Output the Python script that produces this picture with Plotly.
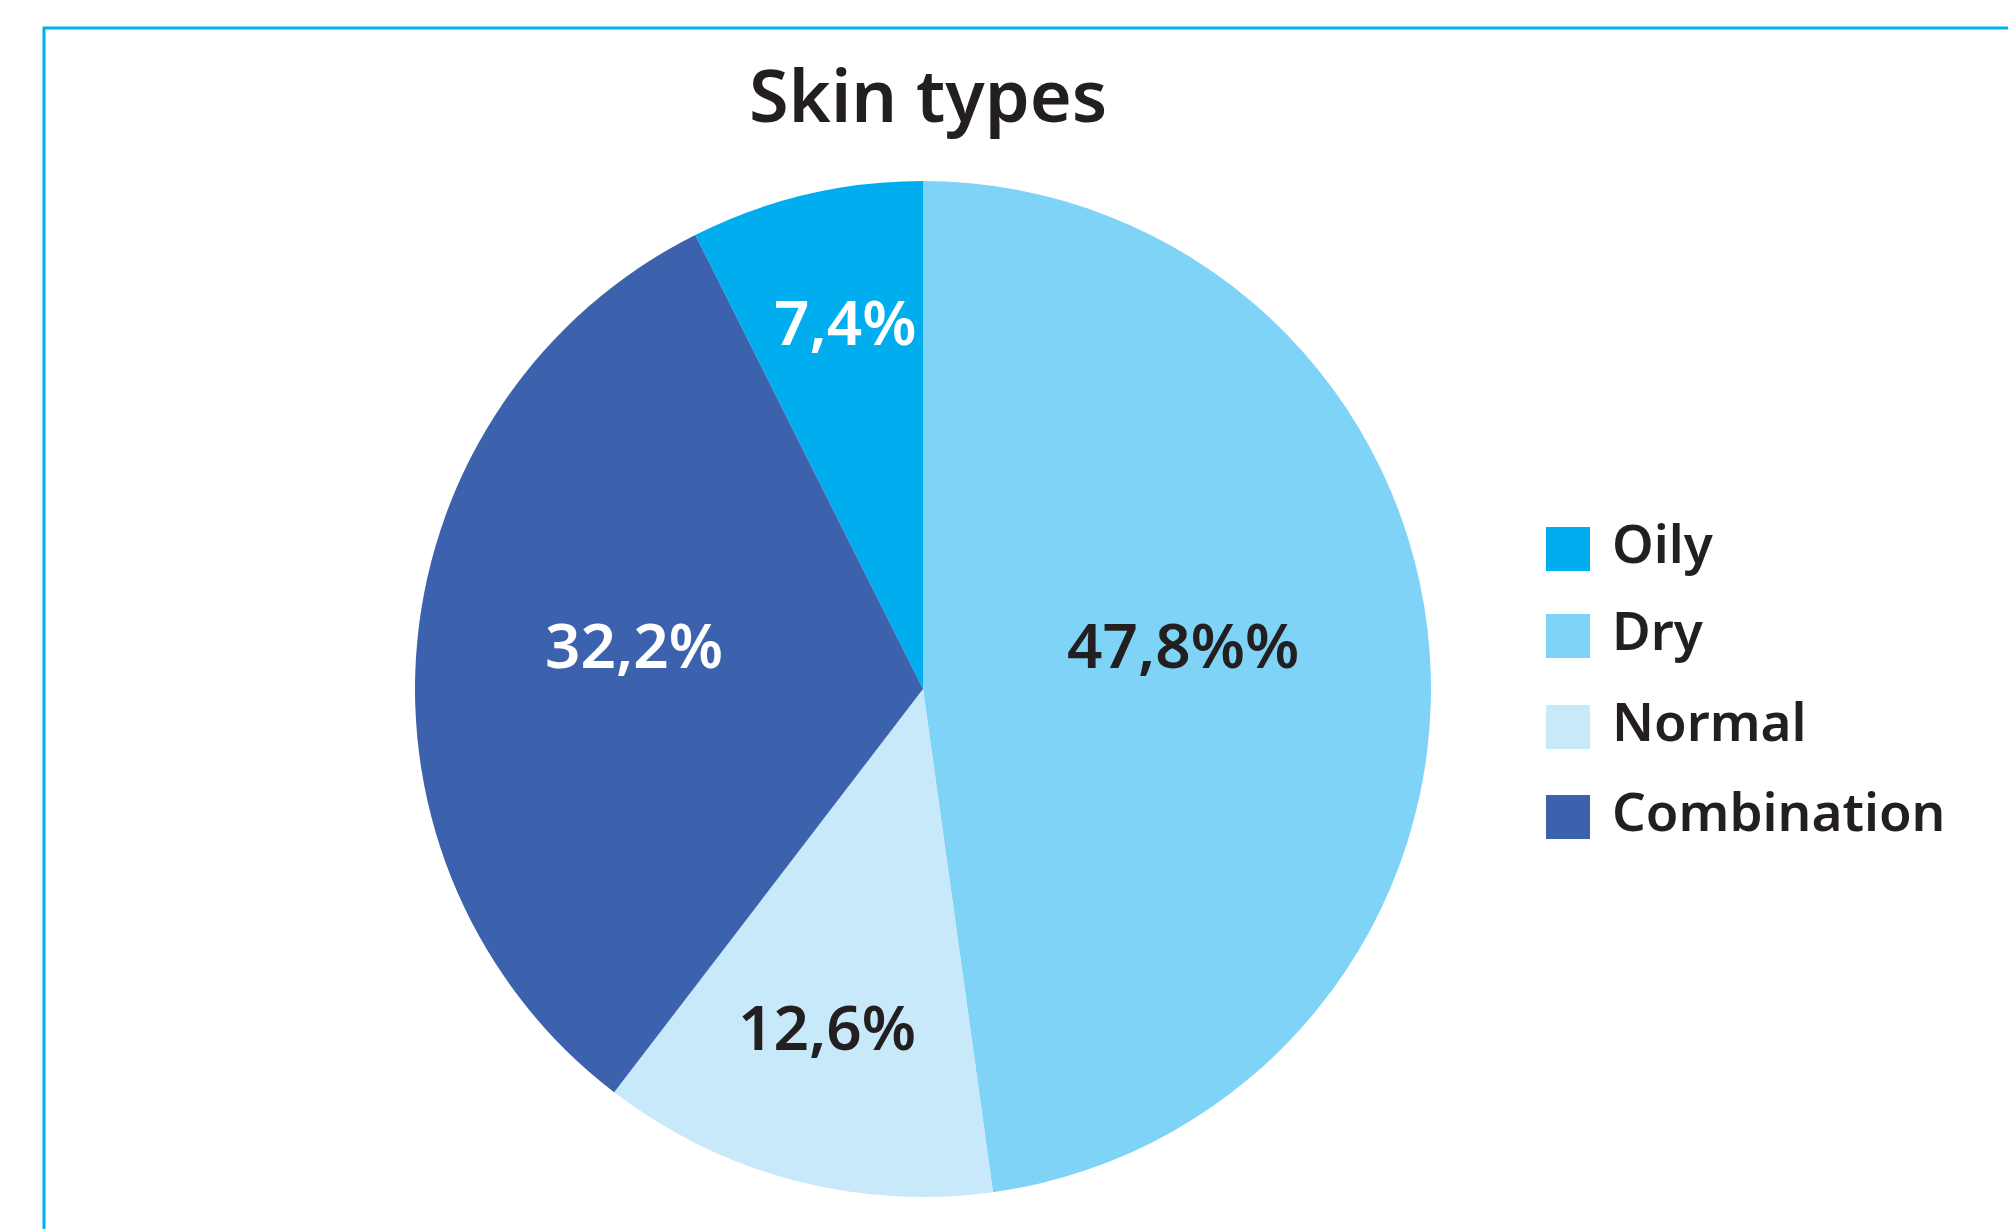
import math
import plotly.graph_objects as go

labels = ["Oily", "Dry", "Normal", "Combination"]
values = [7.4, 47.8, 12.6, 32.2]
text_labels = ["7,4%", "47,8%%", "12,6%", "32,2%"]
colors = ["#00AEEF", "#7FD3F7", "#C7E9F9", "#3D62AD"]
text_colors = ["#FFFFFF", "#231F20", "#231F20", "#FFFFFF"]
title_text = "Skin types"

W, H = 2016, 1229
OFF = 8  # page body margin
FONT = "Noto Sans"

# pie geometry (target pixels)
CX, CY, R = 923, 689, 508
ROTATION = -values[0] / sum(values) * 360
# label placement: radius fraction and angle offset (deg) from the slice mid-angle
label_r_frac = [0.740, 0.519, 0.690, 0.576]
label_ang_off = [1.3, -5.9, 1.1, 3.4]


def px(x):
    return (x - OFF) / W


def py(y):
    return 1 - (y - OFF) / H


fig = go.Figure()
fig.add_trace(go.Pie(
    labels=labels,
    values=values,
    textinfo="none",
    marker=dict(colors=colors, line=dict(width=0)),
    sort=False,
    direction="clockwise",
    rotation=ROTATION,
    domain=dict(x=[px(CX - R), px(CX + R)], y=[py(CY + R), py(CY - R)]),
    showlegend=False,
    hoverinfo="label+value",
))

shapes = [dict(type="rect", xref="paper", yref="paper",
               x0=px(44), x1=1.02, y0=py(28), y1=-0.02,
               line=dict(color="#00AEEF", width=3), fillcolor="rgba(0,0,0,0)",
               layer="below")]
annotations = [dict(text=title_text, xref="paper", yref="paper",
                    x=px(928), y=py(94), xanchor="center", yanchor="middle",
                    showarrow=False,
                    font=dict(family=FONT, size=72, color="#231F20", weight=600))]

# slice labels near the slice mid-angle
total = sum(values)
cum = 0.0
for v, t, tc, rf, ao in zip(values, text_labels, text_colors, label_r_frac, label_ang_off):
    mid = math.radians(ROTATION + (cum + v / 2) / total * 360 + ao)
    cum += v
    lx = CX + rf * R * math.sin(mid)
    ly = CY - rf * R * math.cos(mid)
    annotations.append(dict(text=t, xref="paper", yref="paper",
                            x=px(lx), y=py(ly), xanchor="center", yanchor="middle",
                            showarrow=False,
                            font=dict(family=FONT, size=62, color=tc, weight=600)))

# manual legend
leg_x0 = 1546
leg_y = [549, 636, 727, 817]
sq = 44
for lab, col, yc in zip(labels, colors, leg_y):
    shapes.append(dict(type="rect", xref="paper", yref="paper",
                       x0=px(leg_x0), x1=px(leg_x0 + sq),
                       y0=py(yc - sq / 2), y1=py(yc + sq / 2),
                       line=dict(width=0), fillcolor=col))
    annotations.append(dict(text=lab, xref="paper", yref="paper",
                            x=px(1610), y=py(yc - 7), xanchor="left", yanchor="middle",
                            showarrow=False,
                            font=dict(family=FONT, size=53, color="#231F20", weight=600)))

fig.update_layout(
    width=W, height=H,
    margin=dict(l=0, r=0, t=0, b=0),
    paper_bgcolor="white", plot_bgcolor="white",
    shapes=shapes, annotations=annotations,
    font=dict(family=FONT),
)

fig.write_html("out.html")
